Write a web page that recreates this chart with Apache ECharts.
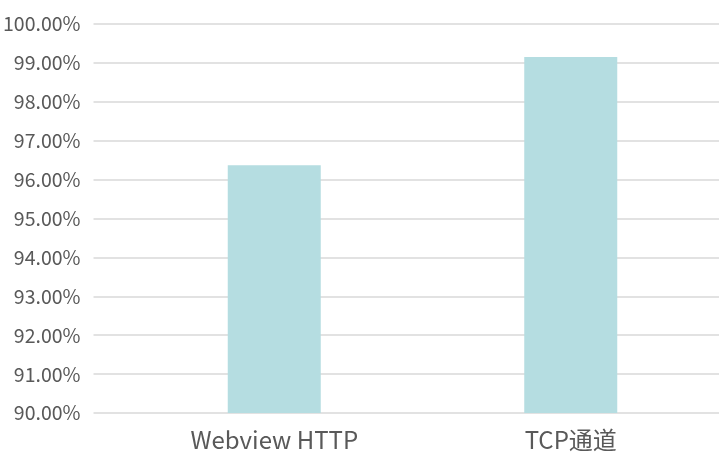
<!DOCTYPE html>
<html><head><meta charset="utf-8">
<script src="https://cdn.jsdelivr.net/npm/echarts@6/dist/echarts.min.js"></script>
<style>html,body{margin:0;padding:0;background:#fff}#c{width:719px;height:457px}</style>
</head><body><div id="c"></div>
<script>
const categories = ['Webview HTTP', 'TCP通道'];
const values = [96.37, 99.15];
const yMin = 90, yMax = 100, yStep = 1;

const font = '"Noto Sans CJK SC", "Noto Sans", sans-serif';
const chart = echarts.init(document.getElementById('c'));
chart.setOption({
  animation: false,
  backgroundColor: '#ffffff',
  grid: [
    {left: 93, right: 0, top: 24, bottom: 44},
    {left: 126, right: 0, top: 24, bottom: 44}
  ],
  xAxis: [
    {gridIndex: 0, type: 'value', show: false, min: 0, max: 1},
    {gridIndex: 1, type: 'category', data: categories,
     axisLine: {show: false}, axisTick: {show: false},
     axisLabel: {color: '#595959', fontSize: 24, fontFamily: font, margin: 15}}
  ],
  yAxis: [
    {gridIndex: 0, type: 'value', min: yMin, max: yMax, interval: yStep,
     axisLine: {show: false}, axisTick: {show: false},
     axisLabel: {color: '#595959', fontSize: 19.5, fontFamily: font, margin: 13,
       formatter: v => v.toFixed(2) + '%'},
     splitLine: {lineStyle: {color: '#d9d9d9', width: 1.5}}},
    {gridIndex: 1, type: 'value', min: yMin, max: yMax, interval: yStep, show: false,
     splitLine: {show: false}}
  ],
  series: [{
    type: 'bar', xAxisIndex: 1, yAxisIndex: 1, data: values,
    barWidth: 93, itemStyle: {color: '#b5dde1'}
  }]
});
</script></body></html>
